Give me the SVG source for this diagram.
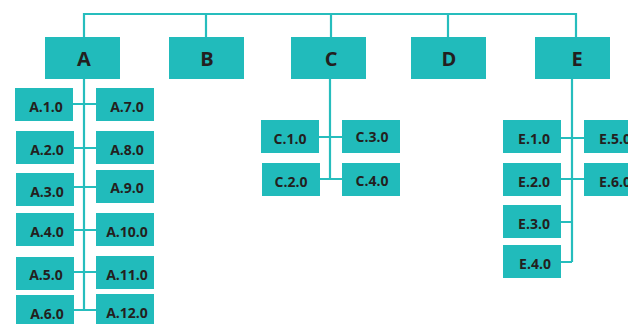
<svg xmlns="http://www.w3.org/2000/svg" width="628" height="324" viewBox="0 0 628 324">
<style>
.n{fill:#21bbbb}
.t{font-family:"Open Sans","Liberation Sans",sans-serif;font-weight:bold;fill:#231f20;text-anchor:middle}
.m{font-size:20px}
.s{font-size:14px}
.c{fill:none;stroke:#26bdbd;stroke-width:2.2}
</style>
<rect width="628" height="324" fill="#fff"/>
<g id="connectors" class="c">
<path d="M84,37 V14 H576 V37 M206,14 V37 M331,14 V37 M448,14 V37"/>
<path d="M84,79 V310 M73,104 H96 M74,148 H96 M74,187 H96 M74,230 H96 M74,272 H96 M74,310 H96"/>
<path d="M330,79 V179 M319,137 H342 M320,179 H342"/>
<path d="M572,79 V262 M561,138 H584 M561,179 H584 M561,222 H572 M561,262 H572"/>
</g>
<g id="A"><rect class="n" x="45" y="37" width="75" height="42"/><text class="t m" x="84" y="66">A</text></g>
<g id="B"><rect class="n" x="169" y="37" width="75" height="42"/><text class="t m" x="207" y="66">B</text></g>
<g id="C"><rect class="n" x="291" y="37" width="75" height="42"/><text class="t m" x="331" y="66">C</text></g>
<g id="D"><rect class="n" x="411" y="37" width="75" height="42"/><text class="t m" x="449" y="66">D</text></g>
<g id="E"><rect class="n" x="535" y="37" width="75" height="42"/><text class="t m" x="577" y="66">E</text></g>
<g id="A1"><rect class="n" x="15" y="88" width="58" height="33"/><text class="t s" x="46" y="112">A.1.0</text></g>
<g id="A2"><rect class="n" x="16" y="131" width="58" height="33"/><text class="t s" x="47" y="155">A.2.0</text></g>
<g id="A3"><rect class="n" x="16" y="173" width="58" height="33"/><text class="t s" x="47" y="197">A.3.0</text></g>
<g id="A4"><rect class="n" x="16" y="213" width="58" height="33"/><text class="t s" x="47" y="237">A.4.0</text></g>
<g id="A5"><rect class="n" x="16" y="257" width="58" height="33"/><text class="t s" x="46" y="280">A.5.0</text></g>
<g id="A6"><rect class="n" x="16" y="295" width="58" height="33"/><text class="t s" x="47" y="319">A.6.0</text></g>
<g id="A7"><rect class="n" x="96" y="88" width="58" height="33"/><text class="t s" x="127" y="112">A.7.0</text></g>
<g id="A8"><rect class="n" x="96" y="131" width="58" height="33"/><text class="t s" x="127" y="155">A.8.0</text></g>
<g id="A9"><rect class="n" x="96" y="170" width="58" height="33"/><text class="t s" x="127" y="193">A.9.0</text></g>
<g id="A10"><rect class="n" x="96" y="213" width="58" height="33"/><text class="t s" x="127" y="237">A.10.0</text></g>
<g id="A11"><rect class="n" x="96" y="256" width="58" height="33"/><text class="t s" x="127" y="280">A.11.0</text></g>
<g id="A12"><rect class="n" x="96" y="294" width="58" height="33"/><text class="t s" x="127" y="318">A.12.0</text></g>
<g id="C1"><rect class="n" x="261" y="120" width="58" height="33"/><text class="t s" x="290" y="144">C.1.0</text></g>
<g id="C2"><rect class="n" x="262" y="163" width="58" height="33"/><text class="t s" x="291" y="187">C.2.0</text></g>
<g id="C3"><rect class="n" x="342" y="120" width="58" height="33"/><text class="t s" x="372" y="142">C.3.0</text></g>
<g id="C4"><rect class="n" x="342" y="163" width="58" height="33"/><text class="t s" x="372" y="186">C.4.0</text></g>
<g id="E1"><rect class="n" x="503" y="120" width="58" height="33"/><text class="t s" x="534" y="144">E.1.0</text></g>
<g id="E2"><rect class="n" x="503" y="163" width="58" height="33"/><text class="t s" x="534" y="187">E.2.0</text></g>
<g id="E3"><rect class="n" x="503" y="205" width="58" height="33"/><text class="t s" x="534" y="229">E.3.0</text></g>
<g id="E4"><rect class="n" x="503" y="245" width="58" height="33"/><text class="t s" x="535" y="269">E.4.0</text></g>
<g id="E5"><rect class="n" x="584" y="120" width="58" height="33"/><text class="t s" x="615" y="144">E.5.0</text></g>
<g id="E6"><rect class="n" x="584" y="163" width="58" height="33"/><text class="t s" x="615" y="187">E.6.0</text></g>
</svg>
